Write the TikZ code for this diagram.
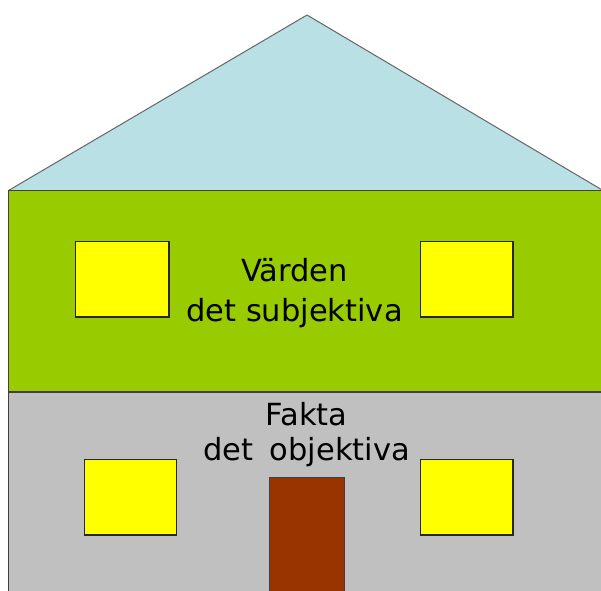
\documentclass[tikz,border=0pt]{standalone}
\usepackage{fontspec}
\setmainfont{DejaVu Sans}
\usetikzlibrary{positioning}
\definecolor{roofblue}{RGB}{185,224,228}
\definecolor{wallgreen}{RGB}{153,204,0}
\definecolor{wallgray}{RGB}{192,192,192}
\definecolor{doorbrown}{RGB}{153,51,0}
\definecolor{paneyellow}{RGB}{255,255,0}

\begin{document}
\begin{tikzpicture}[x=1pt, y=-1pt]
  \useasboundingbox (0,0) rectangle (601,590);
  % roof and the two storeys
  \filldraw[fill=roofblue, draw=black!60, line width=1pt, line join=round] (8.5,190.5) -- (307,15) -- (603,190.5) -- cycle;
  \filldraw[fill=wallgreen, draw=black!75, line width=1.4pt] (8.5,190.5) rectangle (603,392);
  \filldraw[fill=wallgray, draw=black!75, line width=1.2pt] (8.5,392) rectangle (603,595);
  % windows and door
  \filldraw[fill=paneyellow, draw=black!85, line width=1.2pt] (75.5,241.5) rectangle (169,317);
  \filldraw[fill=paneyellow, draw=black!85, line width=1.2pt] (420.5,241.5) rectangle (513,317);
  \filldraw[fill=paneyellow, draw=black!85, line width=1.2pt] (84.5,459.5) rectangle (176.5,535);
  \filldraw[fill=paneyellow, draw=black!85, line width=1.2pt] (420.5,459.5) rectangle (513,535);
  \filldraw[fill=doorbrown, draw=black!75, line width=1pt] (269,477.5) rectangle (344.5,595);
  % labels
  \node[anchor=base, align=center, inner sep=0pt, font=\fontsize{30.5}{40}\selectfont] (upper) at (294.5,321.7) {Värden\\det subjektiva};
  \node[anchor=base, align=center, inner sep=0pt, font=\fontsize{30.5}{35}\selectfont] (lower) at (306.5,460) {Fakta\\det\hspace{.55em}objektiva};
\end{tikzpicture}
\end{document}
